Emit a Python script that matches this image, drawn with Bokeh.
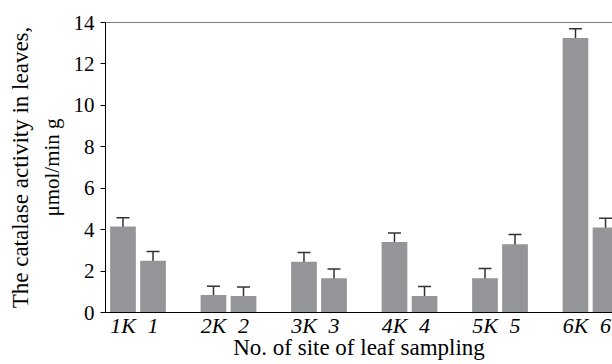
from bokeh.plotting import figure
from bokeh.models import ColumnDataSource, Whisker, FixedTicker, Span, Title, TeeHead, Range1d
from bokeh.embed import file_html
from bokeh.resources import INLINE

# ---- data ----
sites = ["1", "2", "3", "4", "5", "6"]
control_labels = ["1K", "2K", "3K", "4K", "5K", "6K"]
site_labels = ["1", "2", "3", "4", "5", "6"]
control_values = [4.15, 0.85, 2.45, 3.40, 1.65, 13.25]
control_errors = [0.43, 0.42, 0.45, 0.44, 0.47, 0.45]
site_values = [2.50, 0.80, 1.65, 0.80, 3.30, 4.10]
site_errors = [0.45, 0.43, 0.45, 0.45, 0.47, 0.45]
y_ticks = [0, 2, 4, 6, 8, 10, 12, 14]

x_title = "No. of site of leaf sampling"
y_title_1 = "The catalase activity in leaves,"
y_title_2 = "\u03bcmol/min g"

# ---- layout constants ----
OFF = 0.166
BAR_W = 0.284
BAR_COLOR = "#949599"
ERR_COLOR = "#333333"
FONT = "Liberation Serif"

xc = [i - OFF for i in range(len(sites))]
xs = [i + OFF for i in range(len(sites))]

src_c = ColumnDataSource(dict(
    x=xc, top=control_values,
    upper=[v + e for v, e in zip(control_values, control_errors)],
    lower=[v - e for v, e in zip(control_values, control_errors)],
))
src_s = ColumnDataSource(dict(
    x=xs, top=site_values,
    upper=[v + e for v, e in zip(site_values, site_errors)],
    lower=[v - e for v, e in zip(site_values, site_errors)],
))

p = figure(width=612, height=364, output_backend="svg", toolbar_location=None,
           x_range=Range1d(-0.359, 5.243), y_range=Range1d(0, 14),
           min_border_left=105, min_border_right=0, min_border_top=22,
           min_border_bottom=52)
p.outline_line_color = None
p.xgrid.visible = False
p.ygrid.visible = False
p.background_fill_color = "white"
p.border_fill_color = "white"

for src in (src_c, src_s):
    p.vbar(x="x", top="top", width=BAR_W, source=src, fill_color=BAR_COLOR, line_color=None)
    w = Whisker(base="x", upper="upper", lower="lower", source=src,
                line_color=ERR_COLOR, line_width=1.5,
                upper_head=TeeHead(size=13, line_color=ERR_COLOR, line_width=1.5),
                lower_head=TeeHead(size=13, line_color=ERR_COLOR, line_width=1.5))
    p.add_layout(w)

p.add_layout(Span(location=14, dimension="width", line_color="black", line_width=1))

# y axis
ya = p.yaxis[0]
ya.ticker = FixedTicker(ticks=y_ticks)
ya.major_tick_out = 5
ya.major_tick_in = 0
ya.minor_tick_out = 0
ya.minor_tick_in = 0
ya.axis_line_color = "black"
ya.major_tick_line_color = "black"
ya.major_label_text_font = FONT
ya.major_label_text_font_size = "21px"
ya.major_label_text_color = "black"
ya.major_label_standoff = 6
ya.axis_label = y_title_2
ya.axis_label_text_font = FONT
ya.axis_label_text_font_size = "21px"
ya.axis_label_text_font_style = "normal"
ya.axis_label_text_color = "black"
ya.axis_label_standoff = 7

p.add_layout(Title(text=y_title_1, align="center", text_font=FONT,
                   text_font_size="23px", text_font_style="normal",
                   text_color="black", standoff=7, offset=0), "left")

# x axis
xa = p.xaxis[0]
ticks = xc + xs
xa.ticker = FixedTicker(ticks=ticks)
overrides = {}
for x, lab in zip(xc, control_labels):
    overrides[x] = lab
for x, lab in zip(xs, site_labels):
    overrides[x] = lab
xa.major_label_overrides = overrides
xa.major_tick_out = 0
xa.major_tick_in = 0
xa.minor_tick_out = 0
xa.minor_tick_in = 0
xa.axis_line_color = "black"
xa.major_label_text_font = FONT
xa.major_label_text_font_size = "22px"
xa.major_label_text_font_style = "italic"
xa.major_label_text_color = "black"
xa.major_label_standoff = 0
xa.axis_label = x_title
xa.axis_label_text_font = FONT
xa.axis_label_text_font_size = "23px"
xa.axis_label_text_font_style = "normal"
xa.axis_label_text_color = "black"
xa.axis_label_standoff = -6

open("out.html", "w").write(file_html(p, INLINE))
